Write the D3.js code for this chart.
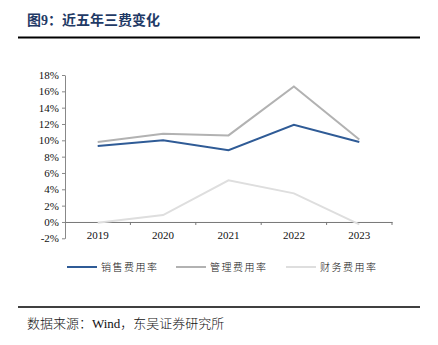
<!DOCTYPE html>
<html>
<head>
<meta charset="utf-8">
<script src="https://cdn.jsdelivr.net/npm/d3@7"></script>
<style>
  body { margin: 0; background: #fff; }
  svg { display: block; }
</style>
</head>
<body>
<svg></svg>
<script>
const YEARS = ['2019', '2020', '2021', '2022', '2023'];
const SALES_RATE = [9.3, 10.0, 8.8, 11.9, 9.8];
const ADMIN_RATE = [9.8, 10.8, 10.6, 16.6, 10.1];
const FINANCE_RATE = [-0.1, 0.85, 5.1, 3.5, -0.3];
const Y_TICKS = [-2, 0, 2, 4, 6, 8, 10, 12, 14, 16, 18];

const SERIES = [
  { name: '销售费用率', values: SALES_RATE, color: '#2f5b96' },
  { name: '管理费用率', values: ADMIN_RATE, color: '#b2b2b2' },
  { name: '财务费用率', values: FINANCE_RATE, color: '#dedede' },
];

const WIDTH = 438;
const HEIGHT = 345;
const SERIF = '"Liberation Serif", "Noto Sans CJK SC", serif';

const svg = d3.select('svg')
  .attr('width', WIDTH)
  .attr('height', HEIGHT);

// title + rules
svg.append('text')
  .attr('x', 27)
  .attr('y', 25)
  .attr('font-family', SERIF)
  .attr('font-size', 14)
  .attr('font-weight', 'bold')
  .attr('fill', '#1f3a66')
  .text('图9：近五年三费变化');

svg.append('line')
  .attr('x1', 18).attr('x2', 420)
  .attr('y1', 37.5).attr('y2', 37.5)
  .attr('stroke', '#000')
  .attr('stroke-width', 2);

svg.append('line')
  .attr('x1', 18).attr('x2', 420)
  .attr('y1', 307).attr('y2', 307)
  .attr('stroke', '#000')
  .attr('stroke-width', 1.5);

svg.append('text')
  .attr('x', 27)
  .attr('y', 328)
  .attr('font-family', SERIF)
  .attr('font-size', 13)
  .attr('font-weight', 300)
  .attr('fill', '#111')
  .text('数据来源：Wind，东吴证券研究所');

// scales
const xScale = d3.scaleBand()
  .domain(YEARS)
  .range([65, 392]);

const yScale = d3.scaleLinear()
  .domain([-2, 18])
  .range([238.3, 75]);

const chart = svg.append('g');

// y axis
const yAxis = chart.append('g')
  .attr('transform', 'translate(65,0)')
  .call(d3.axisLeft(yScale)
    .tickValues(Y_TICKS)
    .tickFormat(d => d + '%')
    .tickSize(3)
    .tickSizeOuter(0));
yAxis.select('.domain').attr('stroke', '#888');
yAxis.selectAll('.tick line').attr('stroke', '#888');
yAxis.selectAll('text')
  .attr('font-family', SERIF)
  .attr('font-size', 11)
  .attr('fill', '#111')
  .attr('x', -6);

// x axis at 0%
const xAxis = chart.append('g')
  .attr('transform', `translate(0,${yScale(0)})`)
  .call(d3.axisBottom(xScale).tickSize(0).tickSizeOuter(0));
xAxis.select('.domain').attr('stroke', '#777');
xAxis.selectAll('text')
  .attr('font-family', SERIF)
  .attr('font-size', 11)
  .attr('fill', '#111')
  .attr('dy', '1.3em');

// category boundary ticks
chart.append('g')
  .selectAll('line')
  .data(YEARS)
  .enter()
  .append('line')
  .attr('x1', d => xScale(d) + xScale.bandwidth())
  .attr('x2', d => xScale(d) + xScale.bandwidth())
  .attr('y1', yScale(0))
  .attr('y2', yScale(0) + 3)
  .attr('stroke', '#777');

// lines
const line = d3.line()
  .x((d, i) => xScale(YEARS[i]) + xScale.bandwidth() / 2)
  .y(d => yScale(d));

chart.selectAll('.series')
  .data(SERIES)
  .enter()
  .append('path')
  .classed('series', true)
  .attr('d', s => line(s.values))
  .attr('fill', 'none')
  .attr('stroke', s => s.color)
  .attr('stroke-width', 2);

// legend
const LEGEND_X = [67, 176, 286];
const legend = svg.append('g')
  .selectAll('g')
  .data(SERIES)
  .enter()
  .append('g')
  .attr('transform', (s, i) => `translate(${LEGEND_X[i]},267)`);

legend.append('line')
  .attr('x1', 0).attr('x2', 30)
  .attr('stroke', s => s.color)
  .attr('stroke-width', 2);

legend.append('text')
  .attr('x', 34)
  .attr('y', 4)
  .attr('font-family', SERIF)
  .attr('font-size', 10)
  .attr('font-weight', 300)
  .attr('letter-spacing', 1.5)
  .attr('fill', '#111')
  .text(s => s.name);
</script>
</body>
</html>
